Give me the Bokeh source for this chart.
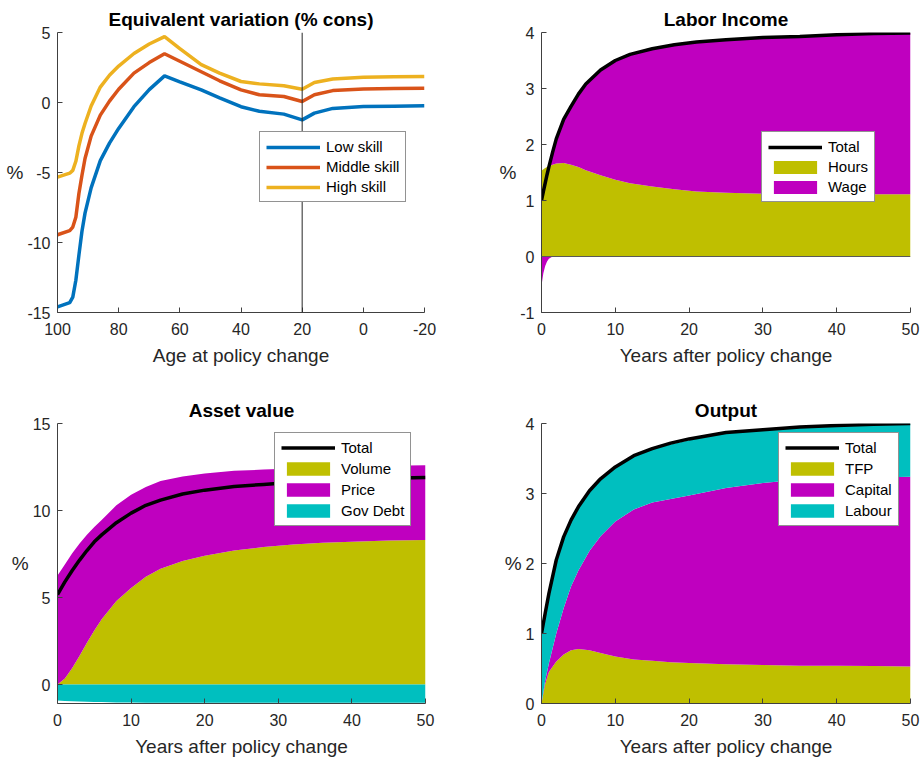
import numpy as np
from bokeh.plotting import figure
from bokeh.models import Range1d, FixedTicker, Legend, LegendItem, Span
from bokeh.layouts import column, row
from bokeh.embed import file_html
from bokeh.resources import INLINE

FONT = "Liberation Sans"
TXT = "#262626"
AXC = "#404040"
OLIVE = "#BFBF00"
MAGENTA = "#BF00BF"
CYAN = "#00BFBF"

# ---------------- Panel 1: Equivalent variation ----------------
ages = [100, 96, 95, 94, 93, 92, 91, 89, 86, 83, 80, 75, 70, 65, 60, 53, 47, 40, 34, 26, 20, 16, 10, 0, -10, -20]
ev_low = [-14.6, -14.3, -13.9, -12.7, -10.9, -9.2, -7.9, -6.1, -4.15, -2.9, -1.85, -0.3, 0.92, 1.9, 1.48, 0.9,
          0.33, -0.3, -0.63, -0.83, -1.24, -0.76, -0.42, -0.29, -0.26, -0.24]
ev_mid = [-9.45, -9.15, -8.9, -8.2, -6.5, -5.2, -4.0, -2.4, -0.9, 0.1, 0.95, 2.1, 2.85, 3.48, 2.95, 2.2, 1.55,
          0.9, 0.55, 0.43, 0.07, 0.55, 0.85, 0.97, 1.0, 1.02]
ev_high = [-5.33, -5.05, -4.85, -4.2, -3.1, -2.2, -1.5, -0.25, 1.1, 1.95, 2.6, 3.5, 4.18, 4.71, 3.85, 2.7, 2.1,
           1.5, 1.33, 1.19, 0.95, 1.43, 1.68, 1.8, 1.84, 1.86]

# ---------------- Panel 2: Labor income ----------------
yrs_li = [0, 0.25, 0.5, 0.75, 1, 1.5, 2, 3, 4, 5, 6, 8, 10, 12, 15, 18, 21, 25, 30, 35, 40, 45, 50]
li_total = [1.0, 1.16, 1.31, 1.46, 1.6, 1.86, 2.1, 2.45, 2.68, 2.9, 3.08, 3.33, 3.5, 3.61, 3.71, 3.78, 3.83,
            3.87, 3.91, 3.93, 3.96, 3.98, 3.99]
li_hours = [1.53, 1.56, 1.58, 1.6, 1.61, 1.64, 1.66, 1.67, 1.64, 1.6, 1.54, 1.45, 1.37, 1.31, 1.25, 1.2, 1.16,
            1.14, 1.12, 1.115, 1.11, 1.11, 1.11]
li_wage = [-0.52, -0.3, -0.17, -0.09, -0.04, 0.22, 0.44, 0.78, 1.04, 1.3, 1.54, 1.88, 2.13, 2.3, 2.46, 2.58,
           2.67, 2.73, 2.79, 2.815, 2.85, 2.87, 2.88]

# ---------------- Panel 3: Asset value ----------------
yrs_av = [0, 1, 2, 3, 4, 5, 6, 8, 10, 12, 14, 17, 20, 24, 28, 32, 36, 40, 45, 50]
av_total = [5.17, 5.9, 6.55, 7.15, 7.7, 8.2, 8.6, 9.3, 9.85, 10.3, 10.6, 10.95, 11.17, 11.38, 11.5, 11.62, 11.7,
            11.78, 11.85, 11.9]
av_volume = [0.0, 0.35, 0.95, 1.65, 2.4, 3.1, 3.75, 4.8, 5.55, 6.2, 6.65, 7.1, 7.4, 7.7, 7.9, 8.05, 8.15, 8.2,
             8.27, 8.3]
av_price = [6.26, 6.55, 6.6, 6.45, 6.2, 5.95, 5.7, 5.5, 5.35, 5.15, 5.05, 4.85, 4.72, 4.58, 4.45, 4.37, 4.33, 4.32,
            4.3, 4.3]
av_debt = [-0.92, -0.94, -0.96, -0.98, -0.99, -1.0, -1.01, -1.03, -1.03, -1.04, -1.04, -1.05, -1.05, -1.05, -1.05,
           -1.05, -1.05, -1.05, -1.05, -1.05]

# ---------------- Panel 4: Output ----------------
yrs_out = [0, 0.5, 1, 2, 3, 4, 5, 6.5, 8, 10, 12.5, 15, 17.5, 20, 25, 30, 35, 40, 45, 50]
out_total = [1.0, 1.29, 1.57, 2.05, 2.38, 2.62, 2.81, 3.04, 3.21, 3.38, 3.54, 3.64, 3.72, 3.78, 3.87, 3.91, 3.95,
             3.97, 3.99, 4.0]
out_tfp = [0.0, 0.28, 0.45, 0.6, 0.7, 0.76, 0.78, 0.76, 0.72, 0.67, 0.63, 0.61, 0.59, 0.58, 0.56, 0.55, 0.54,
           0.54, 0.535, 0.53]
out_capital = [0.0, 0.05, 0.12, 0.4, 0.66, 0.91, 1.12, 1.42, 1.67, 1.93, 2.14, 2.26, 2.33, 2.39, 2.52, 2.6,
               2.66, 2.68, 2.695, 2.71]
out_labour = [1.0, 0.96, 1.0, 1.05, 1.02, 0.95, 0.91, 0.86, 0.82, 0.78, 0.77, 0.77, 0.78, 0.79, 0.78, 0.76,
              0.75, 0.75, 0.76, 0.76]

ev_ticks = [100, 80, 60, 40, 20, 0, -20]
ev_yticks = [-15, -10, -5, 0, 5]
yr_ticks = [0, 10, 20, 30, 40, 50]


def make_fig(w, h, l, r, t, b, xr, yr, xticks, yticks, title, xlabel, tstand):
    p = figure(width=w, height=h, x_range=xr, y_range=yr, output_backend="svg",
               toolbar_location=None, min_border_left=l, min_border_right=r,
               min_border_top=t, min_border_bottom=b)
    p.outline_line_color = None
    p.background_fill_color = "white"
    p.border_fill_color = "white"
    p.xgrid.visible = False
    p.ygrid.visible = False
    p.title.text = title
    p.title.align = "center"
    p.title.text_font = FONT
    p.title.text_font_size = "19px"
    p.title.text_font_style = "bold"
    p.title.text_color = "black"
    p.title.standoff = tstand
    p.title.offset = 0
    for ax, ticks in ((p.xaxis[0], xticks), (p.yaxis[0], yticks)):
        ax.ticker = FixedTicker(ticks=ticks)
        ax.major_label_overrides = {k: str(k) for k in ticks}
        ax.axis_line_color = AXC
        ax.axis_line_width = 1
        ax.major_tick_line_color = AXC
        ax.major_tick_in = 5
        ax.major_tick_out = 0
        ax.minor_tick_line_color = None
        ax.major_label_text_font = FONT
        ax.major_label_text_font_size = "16px"
        ax.major_label_text_color = TXT
        ax.axis_label_text_font = FONT
        ax.axis_label_text_font_size = "19px"
        ax.axis_label_text_font_style = "normal"
        ax.axis_label_text_color = TXT
    p.xaxis[0].major_label_standoff = 10
    p.xaxis[0].axis_label = xlabel
    p.xaxis[0].axis_label_standoff = 7
    p.yaxis[0].major_label_standoff = 7
    p.yaxis[0].axis_label = "%"
    p.yaxis[0].axis_label_standoff = 1
    try:
        p.yaxis[0].axis_label_orientation = "horizontal"
    except Exception:
        pass
    return p


def make_legend(items, loc, gh, sp, pad):
    lg = Legend(items=items, location=loc, label_text_font=FONT, label_text_font_size="15px",
                label_text_color="black", glyph_width=54, glyph_height=gh, label_height=gh,
                spacing=sp, padding=pad, margin=0, label_standoff=6,
                border_line_color=TXT, border_line_width=1, background_fill_color="white",
                background_fill_alpha=1.0)
    return lg


# ---------- figure 1 ----------
p1 = make_fig(461, 380, 57, 37, 32, 68, Range1d(100, -20), Range1d(-15, 5), ev_ticks, ev_yticks,
              "Equivalent variation (% cons)", "Age at policy change", 6)
p1.add_layout(Span(location=20, dimension="height", line_color=TXT, line_width=1))
r_low = p1.line(ages, ev_low, line_color="#0072BD", line_width=3.5)
r_mid = p1.line(ages, ev_mid, line_color="#D95319", line_width=3.5)
r_high = p1.line(ages, ev_high, line_color="#EDB120", line_width=3.5)
p1.add_layout(make_legend([LegendItem(label="Low skill", renderers=[r_low]),
                           LegendItem(label="Middle skill", renderers=[r_mid]),
                           LegendItem(label="High skill", renderers=[r_high])], (202, 110), 16, 3, 6))

# ---------- figure 2 ----------
p2 = make_fig(461, 380, 80, 12, 32, 68, Range1d(0, 50), Range1d(-1, 4), yr_ticks, [-1, 0, 1, 2, 3, 4],
              "Labor Income", "Years after policy change", 6)
h = np.array(li_hours)
wg = np.array(li_wage)
r_hours = p2.varea(x=yrs_li, y1=np.zeros(len(h)), y2=h, fill_color=OLIVE)
r_wage = p2.varea(x=yrs_li, y1=h, y2=h + np.maximum(wg, 0), fill_color=MAGENTA)
p2.varea(x=yrs_li, y1=np.zeros(len(wg)), y2=np.minimum(wg, 0), fill_color=MAGENTA)
p2.add_layout(Span(location=0, dimension="width", line_color="#595959", line_width=1))
r_tot2 = p2.line(yrs_li, li_total, line_color="black", line_width=3.5)
p2.add_layout(make_legend([LegendItem(label="Total", renderers=[r_tot2]),
                           LegendItem(label="Hours", renderers=[r_hours]),
                           LegendItem(label="Wage", renderers=[r_wage])], (220, 110), 16, 3, 6))

# ---------- figure 3 ----------
p3 = make_fig(461, 380, 57, 36, 42, 57, Range1d(0, 50), Range1d(-1.09, 15), yr_ticks, [0, 5, 10, 15],
              "Asset value", "Years after policy change", 5)
v = np.array(av_volume)
pr = np.array(av_price)
r_vol = p3.varea(x=yrs_av, y1=np.zeros(len(v)), y2=v, fill_color=OLIVE)
r_pri = p3.varea(x=yrs_av, y1=v, y2=v + pr, fill_color=MAGENTA)
r_debt = p3.varea(x=yrs_av, y1=np.zeros(len(v)), y2=av_debt, fill_color=CYAN)
r_tot3 = p3.line(yrs_av, av_total, line_color="black", line_width=3.5)
p3.add_layout(make_legend([LegendItem(label="Total", renderers=[r_tot3]),
                           LegendItem(label="Volume", renderers=[r_vol]),
                           LegendItem(label="Price", renderers=[r_pri]),
                           LegendItem(label="Gov Debt", renderers=[r_debt])], (217, 177), 17, 4, 6))

# ---------- figure 4 ----------
p4 = make_fig(461, 380, 80, 12, 43, 57, Range1d(0, 50), Range1d(0, 4), yr_ticks, [0, 1, 2, 3, 4],
              "Output", "Years after policy change", 5)
tf = np.array(out_tfp)
cp = np.array(out_capital)
lb = np.array(out_labour)
r_tfp = p4.varea(x=yrs_out, y1=np.zeros(len(tf)), y2=tf, fill_color=OLIVE)
r_cap = p4.varea(x=yrs_out, y1=tf, y2=tf + cp, fill_color=MAGENTA)
r_lab = p4.varea(x=yrs_out, y1=tf + cp, y2=tf + cp + lb, fill_color=CYAN)
r_tot4 = p4.line(yrs_out, out_total, line_color="black", line_width=3.5)
p4.add_layout(make_legend([LegendItem(label="Total", renderers=[r_tot4]),
                           LegendItem(label="TFP", renderers=[r_tfp]),
                           LegendItem(label="Capital", renderers=[r_cap]),
                           LegendItem(label="Labour", renderers=[r_lab])], (237, 177), 17, 4, 6))

layout = column(row(p1, p2), row(p3, p4))
open("out.html", "w").write(file_html(layout, INLINE))
